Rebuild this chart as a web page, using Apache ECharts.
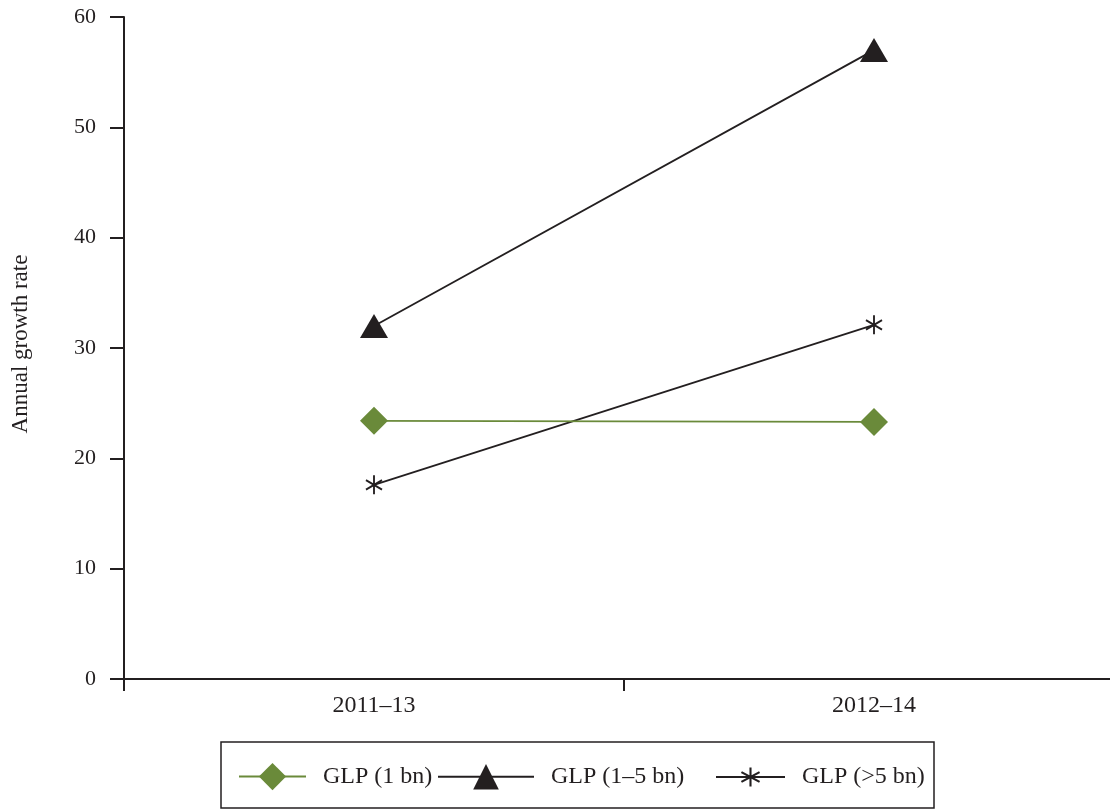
<!DOCTYPE html>
<html>
<head>
<meta charset="utf-8">
<script src="https://cdn.jsdelivr.net/npm/echarts@6/dist/echarts.min.js"></script>
<style>
html,body{margin:0;padding:0;background:#fff;overflow:hidden;width:1110px;height:809px;}
#chart{width:1124px;height:809px;}
</style>
</head>
<body>
<div id="chart"></div>
<script>
var categories = ['2011\u201313', '2012\u201314'];
var seriesNames = ['GLP (1 bn)', 'GLP (1\u20135 bn)', 'GLP (>5 bn)'];
var glp1 = [23.4, 23.3];
var glp15 = [32.0, 57.0];
var glp5 = [17.6, 32.1];
var yTicks = [0, 10, 20, 30, 40, 50, 60];

var FONT = '"Liberation Serif", "DejaVu Serif", serif';
var INK = '#231f20';
var GREEN = '#6a8a3a';
var STAR = 'path://M-0.1,-1 L0.1,-1 L0.1,1 L-0.1,1 Z M-0.916,-0.413 L-0.816,-0.587 L0.916,0.413 L0.816,0.587 Z M0.816,-0.587 L0.916,-0.413 L-0.816,0.587 L-0.916,0.413 Z';

var chart = echarts.init(document.getElementById('chart'), null, {renderer: 'canvas'});

function legendAt(name, left, w, h, top) {
  return {
    data: [name],
    left: left,
    top: top,
    orient: 'horizontal',
    padding: 0,
    itemWidth: w,
    itemHeight: h,
    selectedMode: false,
    textStyle: {fontFamily: FONT, fontSize: 24, color: INK, padding: [0, 0, 0, 12]}
  };
}

chart.setOption({
  animation: false,
  backgroundColor: '#fff',
  grid: {left: 124, top: 17, width: 1000, height: 662, containLabel: false},
  xAxis: {
    type: 'category',
    data: categories,
    boundaryGap: true,
    axisLine: {lineStyle: {color: INK, width: 2}},
    axisTick: {show: true, length: 12, lineStyle: {color: INK, width: 2}},
    axisLabel: {fontFamily: FONT, fontSize: 24, color: INK, margin: 15},
    splitLine: {show: false}
  },
  yAxis: {
    type: 'value',
    min: yTicks[0],
    max: yTicks[yTicks.length - 1],
    interval: 10,
    name: 'Annual growth rate',
    nameLocation: 'middle',
    nameGap: 92,
    nameTextStyle: {fontFamily: FONT, fontSize: 23, color: INK, padding: [0, 0, 0, 8]},
    axisLine: {show: true, lineStyle: {color: INK, width: 2}},
    axisTick: {show: true, length: 14, lineStyle: {color: INK, width: 2}},
    axisLabel: {fontFamily: FONT, fontSize: 22, color: INK, margin: 28},
    splitLine: {show: false}
  },
  legend: [
    legendAt(seriesNames[0], 238, 67, 34, 763),
    legendAt(seriesNames[1], 437, 96, 32, 764),
    legendAt(seriesNames[2], 715, 69, 24, 765)
  ],
  graphic: [{
    type: 'rect',
    shape: {x: 221, y: 742, width: 713, height: 66},
    style: {fill: 'none', stroke: INK, lineWidth: 1.5},
    silent: true
  }],
  series: [
    {
      name: seriesNames[0], type: 'line', data: glp1,
      symbol: 'diamond', symbolSize: [28, 28],
      lineStyle: {color: GREEN, width: 1.8},
      itemStyle: {color: GREEN},
      z: 3
    },
    {
      name: seriesNames[1], type: 'line', data: glp15,
      symbol: 'triangle', symbolSize: [28, 24],
      lineStyle: {color: INK, width: 1.8},
      itemStyle: {color: INK},
      z: 2
    },
    {
      name: seriesNames[2], type: 'line', data: glp5,
      symbol: STAR, symbolSize: [17, 19],
      lineStyle: {color: INK, width: 1.8},
      itemStyle: {color: INK},
      z: 2
    }
  ]
});
</script>
</body>
</html>
